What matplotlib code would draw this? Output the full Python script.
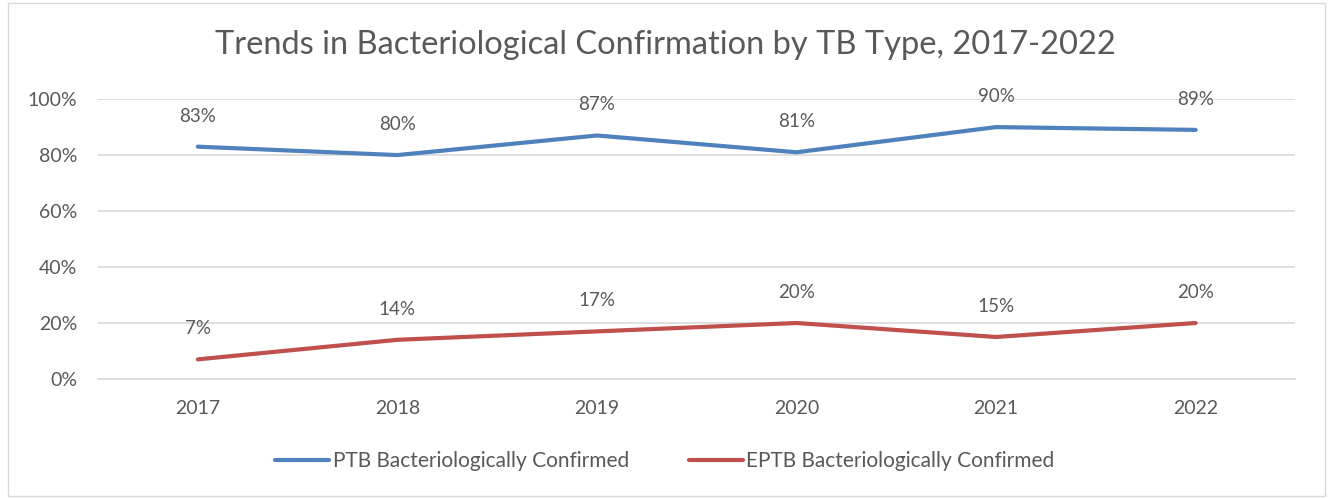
import matplotlib.pyplot as plt
import matplotlib.patches as patches
import numpy as np

years = ['2017', '2018', '2019', '2020', '2021', '2022']
ptb = [83, 80, 87, 81, 90, 89]
eptb = [7, 14, 17, 20, 15, 20]
y_ticks = [0, 20, 40, 60, 80, 100]

plt.rcParams['font.family'] = ['Lato', 'DejaVu Sans']
txt = '#595959'

fig = plt.figure(figsize=(13.3, 4.98), dpi=100)
ax = fig.add_axes([0.0737, 0.239, 0.9003, 0.562])

x = np.arange(len(years))
ax.plot(x, ptb, color='#4F81BD', lw=3, solid_capstyle='round',
        label='PTB Bacteriologically Confirmed')
ax.plot(x, eptb, color='#C0504D', lw=3, solid_capstyle='round',
        label='EPTB Bacteriologically Confirmed')

for xi, v in zip(x, ptb):
    ax.annotate(f'{v}%', (xi, v), xytext=(0, 22), textcoords='offset points',
                ha='center', va='center', fontsize=13.5, color=txt)
for xi, v in zip(x, eptb):
    ax.annotate(f'{v}%', (xi, v), xytext=(0, 22), textcoords='offset points',
                ha='center', va='center', fontsize=13.5, color=txt)

ax.set_xlim(-0.5, len(years) - 0.5)
ax.set_ylim(0, 100)
ax.set_xticks(x)
ax.set_xticklabels(years)
ax.set_yticks(y_ticks)
ax.set_yticklabels([f'{t}%' for t in y_ticks])
ax.tick_params(length=0, labelsize=14, labelcolor=txt)
ax.tick_params(axis='x', pad=15)
ax.tick_params(axis='y', pad=15)
ax.grid(True, axis='y', color='#D9D9D9', lw=1.2)
ax.set_axisbelow(True)
for s in ['top', 'right', 'left']:
    ax.spines[s].set_visible(False)
ax.spines['bottom'].set_color('#D9D9D9')
ax.spines['bottom'].set_linewidth(1.2)

fig.text(0.5, 0.91, 'Trends in Bacteriological Confirmation by TB Type, 2017-2022',
         ha='center', va='center', fontsize=23.5, color=txt)

fig.legend(loc='center', bbox_to_anchor=(0.5, 0.074), ncol=2, frameon=False,
           fontsize=15, labelcolor=txt, handlelength=2.6, handletextpad=0.15,
           columnspacing=2.9)

fig.patches.append(patches.Rectangle((0.006, 0.004), 0.99, 0.99, transform=fig.transFigure,
                                     fill=False, edgecolor='#D9D9D9', lw=1))

fig.savefig('out.png', dpi=100)
